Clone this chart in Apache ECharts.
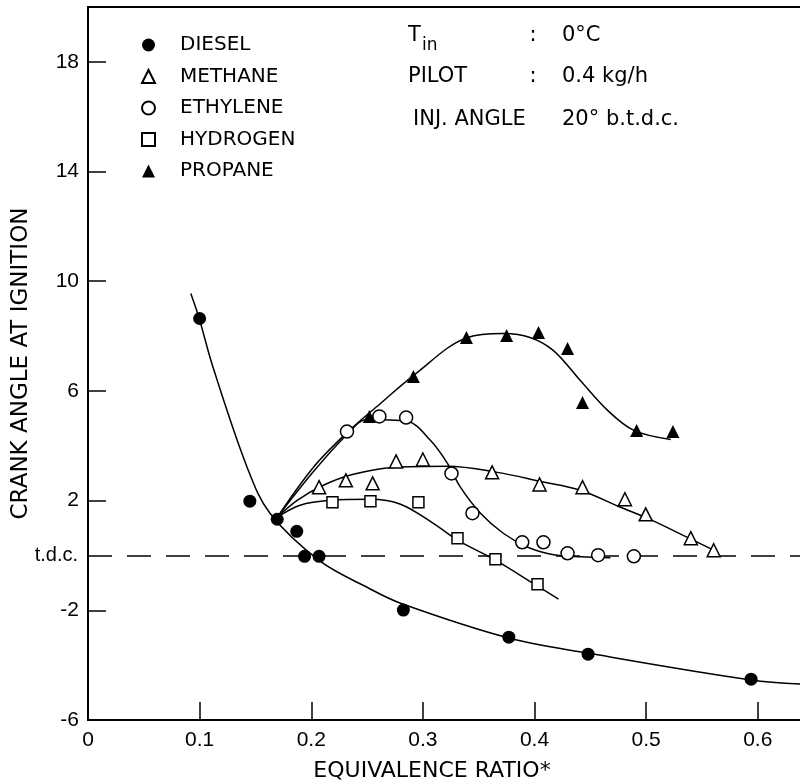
<!DOCTYPE html>
<html>
<head>
<meta charset="utf-8">
<script src="https://cdn.jsdelivr.net/npm/echarts@6/dist/echarts.min.js"></script>
<style>
  html, body { margin: 0; padding: 0; background: #fff; }
  #chart { width: 800px; height: 782px; }
</style>
</head>
<body>
<div id="chart"></div>
<script>
// measured points, [equivalence ratio, crank angle]
const dieselPoints = [[0.100, 8.64], [0.145, 1.98], [0.1695, 1.32], [0.187, 0.88], [0.194, -0.03],
  [0.207, -0.03], [0.2825, -1.99], [0.377, -2.98], [0.448, -3.6], [0.594, -4.51]];
const methanePoints = [[0.207, 2.49], [0.231, 2.74], [0.255, 2.63], [0.276, 3.43], [0.300, 3.50],
  [0.362, 3.03], [0.4045, 2.59], [0.443, 2.49], [0.481, 2.05], [0.4996, 1.50], [0.540, 0.63], [0.5605, 0.19]];
const ethylenePoints = [[0.232, 4.52], [0.261, 5.07], [0.285, 5.03], [0.3256, 2.99], [0.3444, 1.54],
  [0.389, 0.48], [0.408, 0.48], [0.4296, 0.08], [0.457, 0.01], [0.489, -0.03]];
const hydrogenPoints = [[0.219, 1.94], [0.253, 1.98], [0.296, 1.94], [0.331, 0.63], [0.365, -0.14], [0.4027, -1.05]];
const propanePoints = [[0.252, 5.07], [0.2915, 6.53], [0.339, 7.95], [0.375, 8.02], [0.4036, 8.13],
  [0.4296, 7.55], [0.443, 5.58], [0.4915, 4.56], [0.524, 4.52]];

// hand-drawn fitted curves
const dieselCurve = [[0.0921, 9.55], [0.0996, 8.64], [0.112, 6.86], [0.1426, 3.21], [0.163, 1.54],
  [0.208, -0.21], [0.250, -1.16], [0.280, -1.74], [0.377, -3.01], [0.4475, -3.56], [0.594, -4.54], [0.645, -4.70]];
const methaneCurve = [[0.1695, 1.39], [0.1874, 2.01], [0.2108, 2.56], [0.2377, 2.96], [0.2735, 3.21],
  [0.322, 3.25], [0.3668, 3.03], [0.4054, 2.70], [0.441, 2.38], [0.477, 1.76], [0.501, 1.36], [0.537, 0.66], [0.564, 0.12]];
const ethyleneCurve = [[0.1695, 1.39], [0.2018, 3.05], [0.2323, 4.42], [0.250, 4.96], [0.286, 4.89],
  [0.3067, 4.20], [0.322, 3.36], [0.3336, 2.49], [0.3516, 1.54], [0.372, 0.81], [0.394, 0.30], [0.417, 0.03], [0.441, -0.05], [0.468, -0.08]];
const hydrogenCurve = [[0.1695, 1.39], [0.190, 1.83], [0.217, 2.01], [0.253, 2.05], [0.280, 1.87],
  [0.3094, 1.17], [0.331, 0.56], [0.365, -0.17], [0.4027, -1.12], [0.4215, -1.59]];
const propaneCurve = [[0.1695, 1.39], [0.2018, 3.21], [0.2323, 4.49], [0.262, 5.54], [0.2915, 6.56],
  [0.340, 7.95], [0.372, 8.09], [0.396, 7.95], [0.417, 7.47], [0.441, 6.38], [0.4655, 5.29], [0.489, 4.56], [0.522, 4.23]];

const fuelNames = ['DIESEL', 'METHANE', 'ETHYLENE', 'HYDROGEN', 'PROPANE'];
const tdcLabel = 't.d.c.';
const notes = [
  ['T', 'in', ':', '0°C'],
  ['PILOT', '', ':', '0.4 kg/h'],
  ['INJ. ANGLE', '', '', '20° b.t.d.c.'],
];

const chart = echarts.init(document.getElementById('chart'));
const sans = 'DejaVu Sans';
const tickFont = 'Liberation Sans';

function pointSeries(name, data, symbol, size, filled) {
  return {
    type: 'scatter',
    name: name,
    data: data,
    symbol: symbol,
    symbolSize: size,
    z: 5,
    itemStyle: filled
      ? { color: '#000', opacity: 1 }
      : { color: '#fff', borderColor: '#000', borderWidth: 1.5, opacity: 1 },
  };
}

function curveSeries(name, data) {
  return {
    type: 'line',
    name: name,
    data: data,
    symbol: 'none',
    smooth: 0.35,
    z: 3,
    lineStyle: { color: '#000', width: 1.5 },
  };
}

const noteRows = [36, 77, 120];
const graphic = [];
notes.forEach((row, i) => {
  const y = noteRows[i];
  const textStyle = { font: '21px "' + sans + '"', fill: '#000', verticalAlign: 'middle' };
  graphic.push({ type: 'text', x: i === 2 ? 413 : 408, y: y, style: Object.assign({ text: row[0] }, textStyle) });
  if (row[1]) {
    graphic.push({ type: 'text', x: 422, y: y + 10,
      style: { text: row[1], font: '17px "' + sans + '"', fill: '#000', verticalAlign: 'middle' } });
  }
  if (row[2]) {
    graphic.push({ type: 'text', x: 533, y: y,
      style: Object.assign({ text: row[2], align: 'center' }, textStyle) });
  }
  graphic.push({ type: 'text', x: 562, y: y, style: Object.assign({ text: row[3] }, textStyle) });
});

const dieselLine = curveSeries('diesel-fit', dieselCurve);
dieselLine.markLine = {
  silent: true,
  symbol: 'none',
  data: [{ yAxis: 0 }],
  lineStyle: { color: '#000', width: 1.5, type: [24, 15] },
  label: {
    position: 'start',
    formatter: tdcLabel,
    distance: 10,
    color: '#000',
    fontFamily: tickFont,
    fontSize: 20,
  },
};

chart.setOption({
  animation: false,
  backgroundColor: '#fff',
  grid: {
    left: 88, top: 7, width: 720, bottom: 62,
    outerBoundsMode: 'none',
    containLabel: false,
    show: true, borderColor: '#000', borderWidth: 2,
  },
  legend: {
    data: fuelNames,
    orient: 'vertical',
    left: 136,
    top: 30,
    itemWidth: 13,
    itemHeight: 13,
    itemGap: 11.5,
    symbolKeepAspect: true,
    textStyle: { color: '#000', fontFamily: sans, fontSize: 20, lineHeight: 20, padding: [0, 0, 0, 20] },
  },
  xAxis: {
    type: 'value',
    min: 0,
    max: 0.645,
    interval: 0.1,
    splitLine: { show: false },
    axisLine: { onZero: false, lineStyle: { color: '#000', width: 2 } },
    axisTick: { inside: true, length: 18, lineStyle: { color: '#000', width: 1.5 } },
    axisLabel: {
      margin: 10,
      color: '#000',
      fontFamily: tickFont,
      fontSize: 21,
      formatter: (v) => {
        if (Math.abs(v * 10 - Math.round(v * 10)) > 1e-6) return '';
        return v === 0 ? '0' : v.toFixed(1);
      },
    },
    name: 'EQUIVALENCE RATIO*',
    nameLocation: 'middle',
    nameGap: 40,
    nameTextStyle: { color: '#000', fontFamily: sans, fontSize: 22, padding: [0, 32, 0, 0] },
  },
  yAxis: {
    type: 'value',
    min: -6,
    max: 20,
    interval: 4,
    splitLine: { show: false },
    axisLine: { onZero: false, lineStyle: { color: '#000', width: 2 } },
    axisTick: { inside: true, length: 18, lineStyle: { color: '#000', width: 1.5 } },
    axisLabel: {
      margin: 9,
      color: '#000',
      fontFamily: tickFont,
      fontSize: 21,
      formatter: (v) => (v === 20 ? '' : String(v)),
    },
    name: 'CRANK ANGLE AT IGNITION',
    nameLocation: 'middle',
    nameGap: 55,
    nameTextStyle: { color: '#000', fontFamily: sans, fontSize: 23 },
  },
  graphic: graphic,
  series: [
    dieselLine,
    curveSeries('methane-fit', methaneCurve),
    curveSeries('ethylene-fit', ethyleneCurve),
    curveSeries('hydrogen-fit', hydrogenCurve),
    curveSeries('propane-fit', propaneCurve),
    pointSeries('DIESEL', dieselPoints, 'circle', 13, true),
    pointSeries('METHANE', methanePoints, 'triangle', 13, false),
    pointSeries('ETHYLENE', ethylenePoints, 'circle', 13, false),
    pointSeries('HYDROGEN', hydrogenPoints, 'rect', 11, false),
    pointSeries('PROPANE', propanePoints, 'triangle', 13, true),
  ],
});
</script>
</body>
</html>
